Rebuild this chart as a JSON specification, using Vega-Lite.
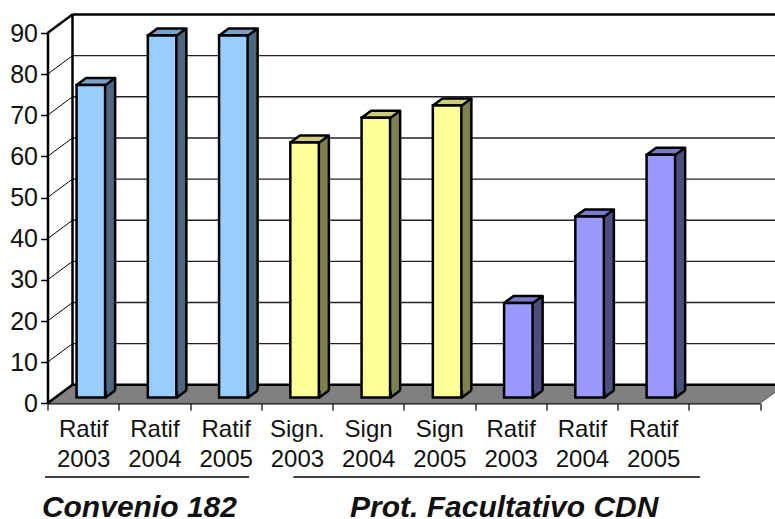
{"$schema":"https://vega.github.io/schema/vega-lite/v6.json","width":712.5,"height":370.3,"autosize":"none","padding":{"left":47.5,"top":33,"right":15,"bottom":115.7},"background":"white","view":{"stroke":null},"config":{"font":"Liberation Sans"},"datasets":{"bars":[{"k":"1|Ratif|2003","group":"Convenio","value":76},{"k":"2|Ratif|2004","group":"Convenio","value":88},{"k":"3|Ratif|2005","group":"Convenio","value":88},{"k":"4|Sign.|2003","group":"Sign","value":62},{"k":"5|Sign|2004","group":"Sign","value":68},{"k":"6|Sign|2005","group":"Sign","value":71},{"k":"7|Ratif|2003","group":"Prot","value":23},{"k":"8|Ratif|2004","group":"Prot","value":44},{"k":"9|Ratif|2005","group":"Prot","value":59}],"grid":[{"v":0},{"v":10},{"v":20},{"v":30},{"v":40},{"v":50},{"v":60},{"v":70},{"v":80},{"v":90}]},"layer":[{"layer":[{"data":{"values":[{"x":0,"y":0}]},"mark":{"type":"point","filled":true,"opacity":1,"size":4,"fill":"#808080","stroke":"#444444","strokeWidth":0.8,"clip":false,"shape":"M0,0 L25,-18.5 L738,-18.5 L712.5,0 Z"},"encoding":{"x":{"field":"x","type":"quantitative","scale":{"domain":[0,10]},"axis":null},"y":{"field":"y","type":"quantitative","scale":{"domain":[0,90]},"axis":{"values":[0,10,20,30,40,50,60,70,80,90],"title":null,"grid":false,"domainColor":"black","domainWidth":2.5,"tickColor":"black","tickSize":7,"tickWidth":1.5,"labelFontSize":25,"labelColor":"#111111","labelPadding":3,"labelFont":"Liberation Sans"}}}},{"data":{"name":"grid"},"transform":[{"filter":"datum.v>0 && datum.v<90"}],"mark":{"type":"rule","color":"#222222","strokeWidth":1.4,"xOffset":25,"x2Offset":50,"yOffset":-18.5},"encoding":{"x":{"datum":0,"type":"quantitative"},"x2":{"datum":10},"y":{"field":"v","type":"quantitative"}}},{"data":{"name":"grid"},"transform":[{"filter":"datum.v==0 || datum.v==90"}],"mark":{"type":"rule","color":"black","strokeWidth":2.5,"xOffset":25,"x2Offset":50,"yOffset":-18.5},"encoding":{"x":{"datum":0,"type":"quantitative"},"x2":{"datum":10},"y":{"field":"v","type":"quantitative"}}},{"data":{"name":"grid"},"transform":[{"filter":"datum.v>0 && datum.v<90"}],"mark":{"type":"rule","color":"black","strokeWidth":1,"x2Offset":25,"y2Offset":-18.5},"encoding":{"x":{"datum":0,"type":"quantitative"},"x2":{"datum":0},"y":{"field":"v","type":"quantitative"},"y2":{"field":"v"}}},{"data":{"name":"grid"},"transform":[{"filter":"datum.v==0 || datum.v==90"}],"mark":{"type":"rule","color":"black","strokeWidth":2.5,"x2Offset":25,"y2Offset":-18.5},"encoding":{"x":{"datum":0,"type":"quantitative"},"x2":{"datum":0},"y":{"field":"v","type":"quantitative"},"y2":{"field":"v"}}},{"data":{"values":[{"a":0,"b":90}]},"mark":{"type":"rule","color":"black","strokeWidth":2.5,"xOffset":25,"yOffset":-18.5,"y2Offset":-18.5},"encoding":{"x":{"datum":0,"type":"quantitative"},"y":{"field":"a","type":"quantitative"},"y2":{"field":"b"}}}]},{"data":{"name":"bars"},"encoding":{"x":{"field":"k","type":"nominal","sort":null,"scale":{"type":"band","paddingInner":0,"paddingOuter":0,"domain":["1|Ratif|2003","2|Ratif|2004","3|Ratif|2005","4|Sign.|2003","5|Sign|2004","6|Sign|2005","7|Ratif|2003","8|Ratif|2004","9|Ratif|2005","10|"]},"axis":{"orient":"bottom","title":null,"labelExpr":"slice(split(datum.value,'|'),1)","labelAngle":0,"labelAlign":"center","labelBaseline":"top","labelFontSize":24,"labelLineHeight":29.5,"labelColor":"#111111","labelPadding":7.5,"tickBand":"extent","tickColor":"black","tickSize":7,"tickWidth":1.2,"domainColor":"black","domainWidth":1.5,"labelOverlap":false,"labelFont":"Liberation Sans"}}},"resolve":{"scale":{"color":"independent"}},"layer":[{"mark":{"type":"bar","width":9.5,"xOffset":27.25,"yOffset":-12.7,"y2Offset":-12.7},"encoding":{"y":{"field":"value","type":"quantitative"},"y2":{"datum":0},"color":{"field":"group","legend":null,"scale":{"domain":["Convenio","Sign","Prot"],"range":["#4D6680","#80804D","#4D4D80"]}}}},{"mark":{"type":"rule","color":"black","strokeWidth":2.5,"xOffset":32,"yOffset":-12.7,"y2Offset":-12.7},"encoding":{"y":{"field":"value","type":"quantitative"},"y2":{"datum":0}}},{"mark":{"type":"point","filled":true,"opacity":1,"size":4,"stroke":"black","strokeWidth":2.5,"strokeJoin":"round","xOffset":8,"yOffset":-5.7,"shape":"M14.5,-7 L14.5,0 L24,-7"},"encoding":{"y":{"datum":0,"type":"quantitative"},"color":{"field":"group","legend":null,"scale":{"domain":["Convenio","Sign","Prot"],"range":["#4D6680","#80804D","#4D4D80"]}}}},{"mark":{"type":"point","filled":true,"opacity":1,"size":4,"stroke":"black","strokeWidth":2.5,"strokeJoin":"round","xOffset":8,"yOffset":-5.7,"shape":"M-14.5,0 L-5,-7 L24,-7 L14.5,0 Z"},"encoding":{"y":{"field":"value","type":"quantitative"},"color":{"field":"group","legend":null,"scale":{"domain":["Convenio","Sign","Prot"],"range":["#7AA3CC","#CCCC7A","#7A7ACC"]}}}},{"mark":{"type":"bar","width":28.5,"xOffset":7.7,"yOffset":-5.7,"y2Offset":-5.7,"stroke":"black","strokeWidth":2.5},"encoding":{"y":{"field":"value","type":"quantitative"},"y2":{"datum":0},"color":{"field":"group","legend":null,"scale":{"domain":["Convenio","Sign","Prot"],"range":["#99CCFF","#FFFF99","#9999FF"]}}}}]},{"data":{"values":[{"label":"Convenio 182","x0":-0.035,"x1":2.83,"tx":1.29,"ly":-17.9,"ty":-25.4},{"label":"Prot. Facultativo CDN","x0":3.45,"x1":9.16,"tx":6.41,"ly":-17.9,"ty":-25.4}]},"layer":[{"mark":{"type":"rule","color":"black","strokeWidth":1.5},"encoding":{"x":{"field":"x0","type":"quantitative","scale":{"domain":[0,10]},"axis":null},"x2":{"field":"x1"},"y":{"field":"ly","type":"quantitative"}}},{"mark":{"type":"text","fontSize":30,"fontWeight":"bold","fontStyle":"italic","color":"#111111","font":"Liberation Sans","align":"center","baseline":"middle"},"encoding":{"x":{"field":"tx","type":"quantitative","scale":{"domain":[0,10]},"axis":null},"y":{"field":"ty","type":"quantitative"},"text":{"field":"label"}}}]}],"resolve":{"scale":{"x":"independent"}}}
